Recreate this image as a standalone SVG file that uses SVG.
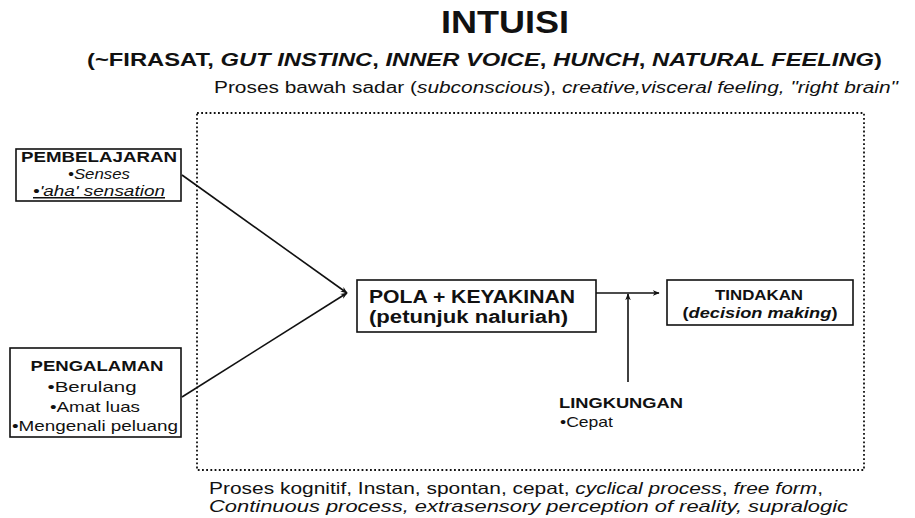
<svg xmlns="http://www.w3.org/2000/svg" width="915" height="518" viewBox="0 0 915 518">
<defs>
<style>
text{font-family:"Liberation Sans",Arial,sans-serif;fill:#111}
.b{font-weight:bold}
.i{font-style:italic}
.box{fill:#fff;stroke:#111;stroke-width:1.6}
.con{stroke:#111;stroke-width:1.6;fill:none}
</style>
<marker id="ah" viewBox="0 0 10 10" refX="9" refY="5" markerWidth="7" markerHeight="7" orient="auto" markerUnits="userSpaceOnUse">
<path d="M0,1 L10,5 L0,9 L3,5 Z" fill="#111"/>
</marker>
</defs>
<rect width="915" height="518" fill="#fff"/>

<g id="header">
<text x="505" y="33" class="b" font-size="32" text-anchor="middle" textLength="128" lengthAdjust="spacingAndGlyphs">INTUISI</text>
<text x="87" y="66" class="b" font-size="19" textLength="795" lengthAdjust="spacingAndGlyphs">(~FIRASAT, <tspan class="i">GUT INSTINC</tspan>, <tspan class="i">INNER VOICE</tspan>, <tspan class="i">HUNCH</tspan>, <tspan class="i">NATURAL FEELING</tspan>)</text>
<text x="214" y="93" font-size="16" textLength="684" lengthAdjust="spacingAndGlyphs">Proses bawah sadar (<tspan class="i">subconscious</tspan>), <tspan class="i">creative,visceral feeling, "right brain"</tspan></text>
</g>

<g id="frame">
<rect x="197" y="113" width="667" height="357" fill="none" stroke="#111" stroke-width="1.8" stroke-dasharray="1.8 2.4"/>
</g>

<g id="connectors">
<line class="con" x1="182" y1="175" x2="347" y2="293" marker-end="url(#ah)"/>
<line class="con" x1="182" y1="397" x2="347" y2="293" marker-end="url(#ah)"/>
<line class="con" x1="596" y1="293" x2="659" y2="293" marker-end="url(#ah)"/>
<line class="con" x1="628" y1="382" x2="628" y2="294" marker-end="url(#ah)"/>
</g>

<g id="pembelajaran">
<rect class="box" x="16" y="149" width="165" height="52"/>
<text x="99" y="162" class="b" font-size="14" text-anchor="middle" textLength="156" lengthAdjust="spacingAndGlyphs">PEMBELAJARAN</text>
<text x="99" y="179" class="i" font-size="15" text-anchor="middle" textLength="62" lengthAdjust="spacingAndGlyphs">•Senses</text>
<text x="99" y="196" class="i" font-size="15" text-anchor="middle" textLength="132" lengthAdjust="spacingAndGlyphs" text-decoration="underline">•'aha' sensation</text>
</g>

<g id="pengalaman">
<rect class="box" x="10" y="348" width="171" height="89"/>
<text x="97" y="371" class="b" font-size="14" text-anchor="middle" textLength="133" lengthAdjust="spacingAndGlyphs">PENGALAMAN</text>
<text x="92" y="392" font-size="15" text-anchor="middle" textLength="89" lengthAdjust="spacingAndGlyphs">•Berulang</text>
<text x="95" y="412" font-size="15" text-anchor="middle" textLength="90" lengthAdjust="spacingAndGlyphs">•Amat luas</text>
<text x="95" y="431" font-size="15" text-anchor="middle" textLength="166" lengthAdjust="spacingAndGlyphs">•Mengenali peluang</text>
</g>

<g id="pola">
<rect class="box" x="357" y="280" width="239" height="52"/>
<text x="369" y="303" class="b" font-size="18" textLength="206" lengthAdjust="spacingAndGlyphs">POLA + KEYAKINAN</text>
<text x="369" y="323" class="b" font-size="18" textLength="199" lengthAdjust="spacingAndGlyphs">(petunjuk naluriah)</text>
</g>

<g id="tindakan">
<rect class="box" x="667" y="280" width="186" height="45"/>
<text x="759" y="300" class="b" font-size="15" text-anchor="middle" textLength="88" lengthAdjust="spacingAndGlyphs">TINDAKAN</text>
<text x="760" y="318" class="b" font-size="15" text-anchor="middle" textLength="155" lengthAdjust="spacingAndGlyphs">(<tspan class="i">decision making</tspan>)</text>
</g>

<g id="lingkungan">
<text x="559" y="408" class="b" font-size="15" textLength="124" lengthAdjust="spacingAndGlyphs">LINGKUNGAN</text>
<text x="560" y="427" font-size="14.5" textLength="53" lengthAdjust="spacingAndGlyphs">•Cepat</text>
</g>

<g id="footer">
<text x="209" y="494" font-size="16.5" textLength="614" lengthAdjust="spacingAndGlyphs">Proses kognitif, Instan, spontan, cepat, <tspan class="i">cyclical process</tspan>, <tspan class="i">free form</tspan>,</text>
<text x="209" y="512" class="i" font-size="16.5" textLength="639" lengthAdjust="spacingAndGlyphs">Continuous process, extrasensory perception of reality, supralogic</text>
</g>
</svg>
